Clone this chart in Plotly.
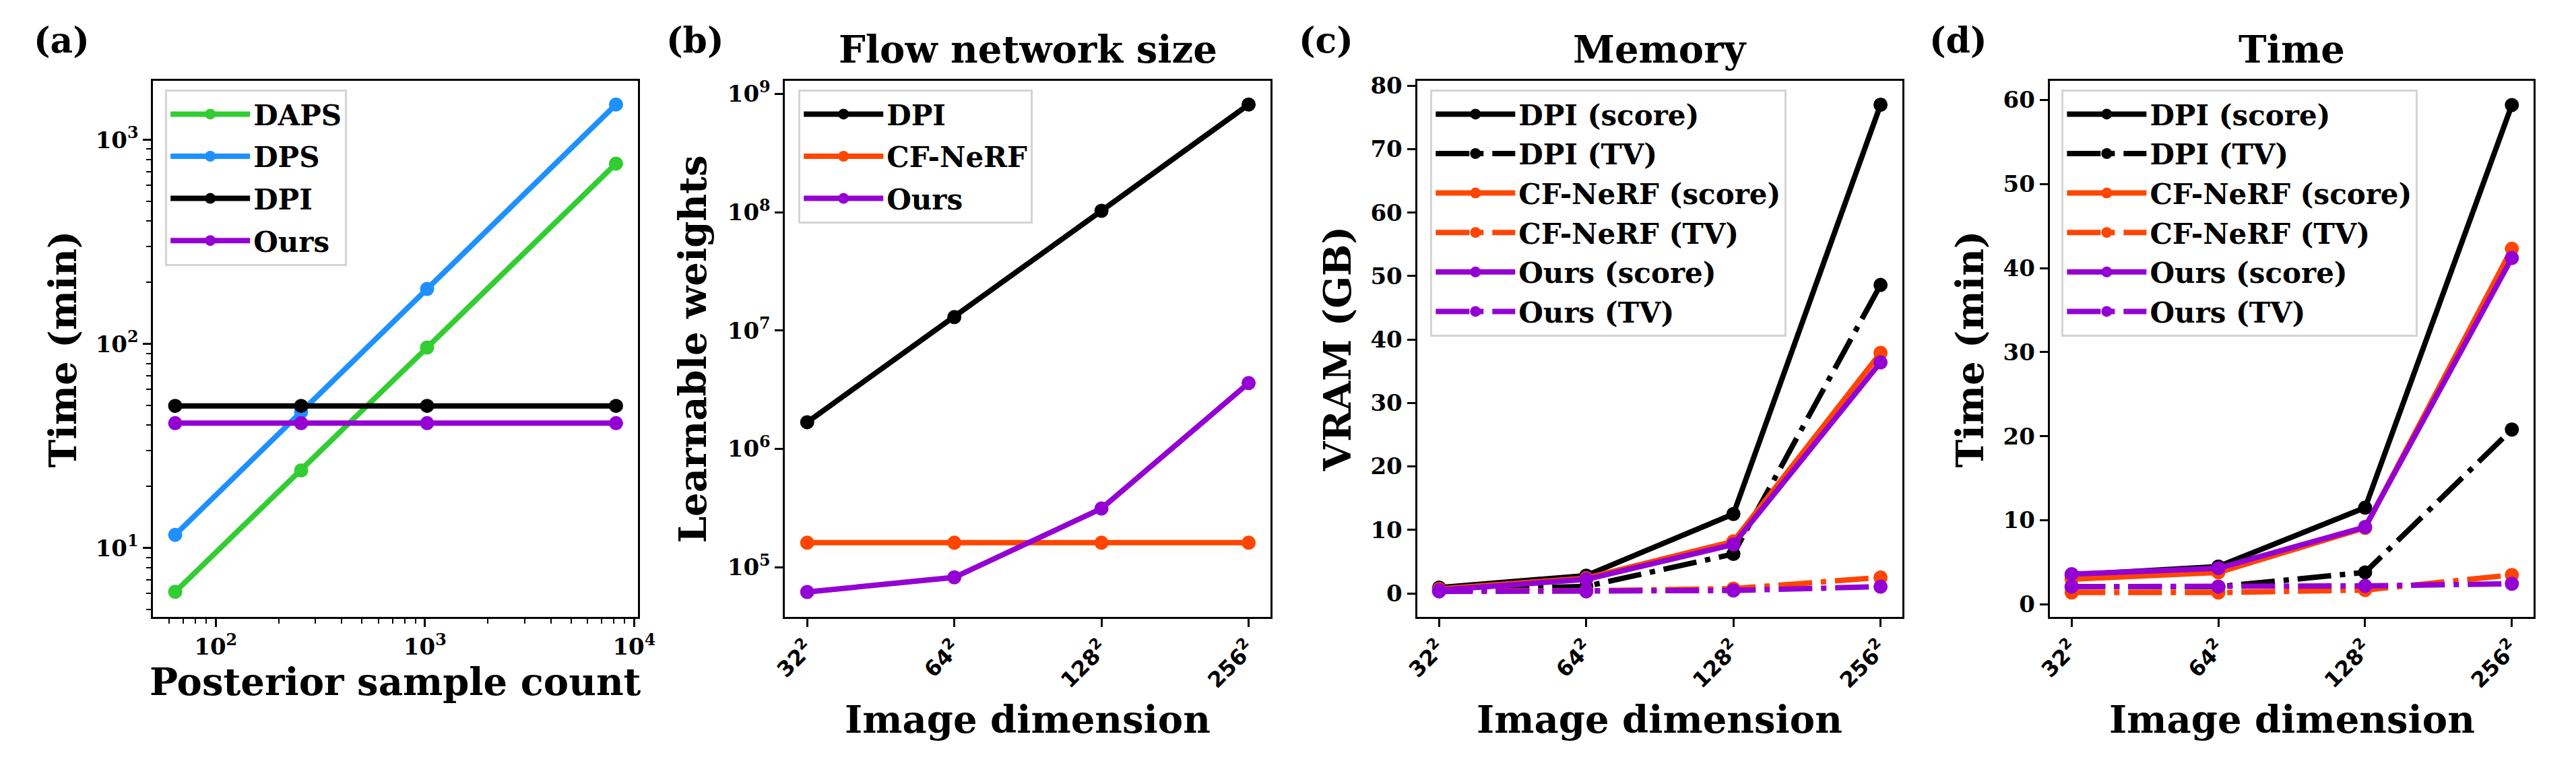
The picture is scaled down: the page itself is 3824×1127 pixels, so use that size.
import plotly.graph_objects as go

W, H = 3824, 1127

# ---------------- data ----------------
# (a) posterior sampling time vs sample count
sample_counts = [64, 256, 1024, 8192]
daps_time = [6.1, 24.0, 96.0, 765.0]
dps_time = [11.6, 46.5, 186.0, 1490.0]
dpi_time_a = [49.7, 49.7, 49.7, 49.7]
ours_time_a = [40.9, 40.9, 40.9, 40.9]

# image dimensions (categories) for (b)-(d)
dims = ["32", "64", "128", "256"]
dim_labels = [d + "<sup>2</sup>" for d in dims]

# (b) flow network size
dpi_weights = [1.68e6, 1.30e7, 1.03e8, 8.15e8]
cf_weights = [1.61e5, 1.61e5, 1.61e5, 1.61e5]
ours_weights = [6.17e4, 8.2e4, 3.13e5, 3.6e6]

# (c) memory (GB)
mem_dpi_score = [0.9, 2.8, 12.5, 77.0]
mem_dpi_tv = [0.5, 1.1, 6.2, 48.6]
mem_cf_score = [0.7, 2.4, 8.2, 37.9]
mem_cf_tv = [0.4, 0.4, 0.75, 2.5]
mem_ours_score = [0.5, 2.2, 7.7, 36.4]
mem_ours_tv = [0.3, 0.3, 0.45, 1.05]

# (d) time (min)
time_dpi_score = [3.5, 4.5, 11.5, 59.4]
time_dpi_tv = [2.1, 2.1, 3.8, 20.8]
time_cf_score = [3.0, 3.8, 9.1, 42.3]
time_cf_tv = [1.4, 1.4, 1.7, 3.5]
time_ours_score = [3.6, 4.3, 9.2, 41.2]
time_ours_tv = [2.1, 2.1, 2.2, 2.45]

# ---------------- style ----------------
GREEN = "#32CD32"
BLUE = "#1E90FF"
BLACK = "#000000"
PURPLE = "#9400D3"
ORANGE = "#FF4500"
LW = 8
MS = 21
DASHDOT = "50px,13px,8px,13px"
SERIF = "DejaVu Serif"
SANS = "DejaVu Sans"

fig = go.Figure()


def add(x, y, name, color, xa, ya, leg, dash="solid"):
    fig.add_trace(go.Scatter(
        x=x, y=y, name=name, mode="lines+markers",
        line=dict(color=color, width=LW, dash=dash),
        marker=dict(color=color, size=MS, symbol="circle"),
        xaxis=xa, yaxis=ya, legend=leg, legendgroup=leg + name,
    ))


# (a)
add(sample_counts, daps_time, "DAPS", GREEN, "x", "y", "legend")
add(sample_counts, dps_time, "DPS", BLUE, "x", "y", "legend")
add(sample_counts, dpi_time_a, "DPI", BLACK, "x", "y", "legend")
add(sample_counts, ours_time_a, "Ours", PURPLE, "x", "y", "legend")

# (b)
add(dims, dpi_weights, "DPI", BLACK, "x2", "y2", "legend2")
add(dims, cf_weights, "CF-NeRF", ORANGE, "x2", "y2", "legend2")
add(dims, ours_weights, "Ours", PURPLE, "x2", "y2", "legend2")

# (c)
add(dims, mem_dpi_score, "DPI (score)", BLACK, "x3", "y3", "legend3")
add(dims, mem_dpi_tv, "DPI (TV)", BLACK, "x3", "y3", "legend3", DASHDOT)
add(dims, mem_cf_score, "CF-NeRF (score)", ORANGE, "x3", "y3", "legend3")
add(dims, mem_cf_tv, "CF-NeRF (TV)", ORANGE, "x3", "y3", "legend3", DASHDOT)
add(dims, mem_ours_score, "Ours (score)", PURPLE, "x3", "y3", "legend3")
add(dims, mem_ours_tv, "Ours (TV)", PURPLE, "x3", "y3", "legend3", DASHDOT)

# (d)
add(dims, time_dpi_score, "DPI (score)", BLACK, "x4", "y4", "legend4")
add(dims, time_dpi_tv, "DPI (TV)", BLACK, "x4", "y4", "legend4", DASHDOT)
add(dims, time_cf_score, "CF-NeRF (score)", ORANGE, "x4", "y4", "legend4")
add(dims, time_cf_tv, "CF-NeRF (TV)", ORANGE, "x4", "y4", "legend4", DASHDOT)
add(dims, time_ours_score, "Ours (score)", PURPLE, "x4", "y4", "legend4")
add(dims, time_ours_tv, "Ours (TV)", PURPLE, "x4", "y4", "legend4", DASHDOT)

# ---------------- layout ----------------
ytop, ybot = 109, 915
ydom = [1 - ybot / H, 1 - ytop / H]
xdoms = [(208, 937), (1158, 1888), (2108, 2838), (3059, 3787)]

tickfont = dict(family=SERIF, size=34, color="black", weight="bold")
cat_tickfont = dict(family=SANS, size=32, color="black", weight="bold")


def base_axis(dom, anchor):
    return dict(domain=[dom[0] / W, dom[1] / W], anchor=anchor,
                showline=True, linecolor="black", linewidth=3, mirror=True,
                ticks="outside", ticklen=12, tickwidth=3, tickcolor="black",
                showgrid=False, zeroline=False, tickfont=tickfont)


minor_style = dict(ticks="outside", ticklen=7, tickwidth=2, tickcolor="black", showgrid=False)
minor_x = [m * 10 ** e for e in (1, 2, 3) for m in range(2, 10)]
minor_y = [m * 10 ** e for e in (0, 1, 2, 3) for m in range(2, 10)]

layout = dict(
    width=W, height=H, margin=dict(l=0, r=0, t=0, b=0),
    paper_bgcolor="white", plot_bgcolor="white",
    showlegend=True,
)

# (a)
xa = base_axis(xdoms[0], "y")
xa.update(type="log", range=[1.701, 4.019], tickmode="array",
          tickvals=[100, 1000, 10000],
          ticktext=["10<sup>2</sup>", "10<sup>3</sup>", "10<sup>4</sup>"],
          minor=dict(tickmode="array", tickvals=minor_x, **minor_style))
ya = dict(domain=ydom, anchor="x", showline=True, linecolor="black", linewidth=3, mirror=True,
          ticks="outside", ticklen=12, tickwidth=3, tickcolor="black",
          showgrid=False, zeroline=False, tickfont=tickfont,
          type="log", range=[0.661, 3.29], tickmode="array",
          tickvals=[10, 100, 1000],
          ticktext=["10<sup>1</sup>", "10<sup>2</sup>", "10<sup>3</sup>"],
          minor=dict(tickmode="array", tickvals=minor_y, **minor_style))
layout["xaxis"] = xa
layout["yaxis"] = ya


def cat_x(i, anchor):
    ax = base_axis(xdoms[i], anchor)
    ax.update(type="category", range=[-0.15, 3.15], tickmode="array",
              tickvals=dims, ticktext=dim_labels, tickangle=-45, tickfont=cat_tickfont)
    return ax


def lin_y(anchor, **kw):
    ax = dict(domain=ydom, anchor=anchor, showline=True, linecolor="black", linewidth=3,
              mirror=True, ticks="outside", ticklen=12, tickwidth=3, tickcolor="black",
              showgrid=False, zeroline=False, tickfont=tickfont)
    ax.update(kw)
    return ax


layout["xaxis2"] = cat_x(1, "y2")
layout["yaxis2"] = lin_y("x2", type="log", range=[4.577, 9.113], tickmode="array",
                         tickvals=[1e5, 1e6, 1e7, 1e8, 1e9],
                         ticktext=["10<sup>5</sup>", "10<sup>6</sup>", "10<sup>7</sup>",
                                   "10<sup>8</sup>", "10<sup>9</sup>"])
layout["xaxis3"] = cat_x(2, "y3")
layout["yaxis3"] = lin_y("x3", range=[-3.76, 80.8], tickmode="linear", tick0=0, dtick=10)
layout["xaxis4"] = cat_x(3, "y4")
layout["yaxis4"] = lin_y("x4", range=[-1.53, 62.3], tickmode="linear", tick0=0, dtick=10)

legfont = dict(family=SERIF, size=42, color="black", weight="bold")


def legend_at(x, y, gap):
    return dict(x=x / W, y=1 - y / H, xanchor="left", yanchor="top",
                bgcolor="rgba(255,255,255,0.85)", bordercolor="#d4d4d4", borderwidth=3,
                font=legfont, itemwidth=118, tracegroupgap=gap, itemclick=False)


layout["legend"] = legend_at(226, 122, 5)
layout["legend2"] = legend_at(1178, 122, 5)
layout["legend3"] = legend_at(2128, 122, 1)
layout["legend4"] = legend_at(3077, 122, 1)

fig.update_layout(**layout)

# ---------------- text ----------------
ann = []


def text(x, y, s, size=56, angle=0):
    ann.append(dict(x=x / W, y=1 - y / H, xref="paper", yref="paper", text=s,
                    showarrow=False, xanchor="center", yanchor="middle", textangle=angle,
                    font=dict(family=SERIF, size=size, color="black", weight="bold")))


# panel letters
text(70, 48, "(a)", 52)
text(1023, 48, "(b)", 52)
text(1971, 48, "(c)", 52)
text(2922, 48, "(d)", 52)
# titles
text(1523, 62, "Flow network size", 56)
text(2473, 62, "Memory", 56)
text(3423, 62, "Time", 56)
# x-axis titles
text(572, 1012, "Posterior sample count", 56)
text(1523, 1068, "Image dimension", 56)
text(2473, 1068, "Image dimension", 56)
text(3423, 1068, "Image dimension", 56)
# y-axis titles
ymid = (ytop + ybot) / 2
text(72, ymid, "Time (min)", 56, -90)
text(1019, ymid, "Learnable weights", 56, -90)
text(1988, ymid, "VRAM (GB)", 56, -90)
text(2939, ymid, "Time (min)", 56, -90)

fig.update_layout(annotations=ann)

fig.write_html("out.html")
